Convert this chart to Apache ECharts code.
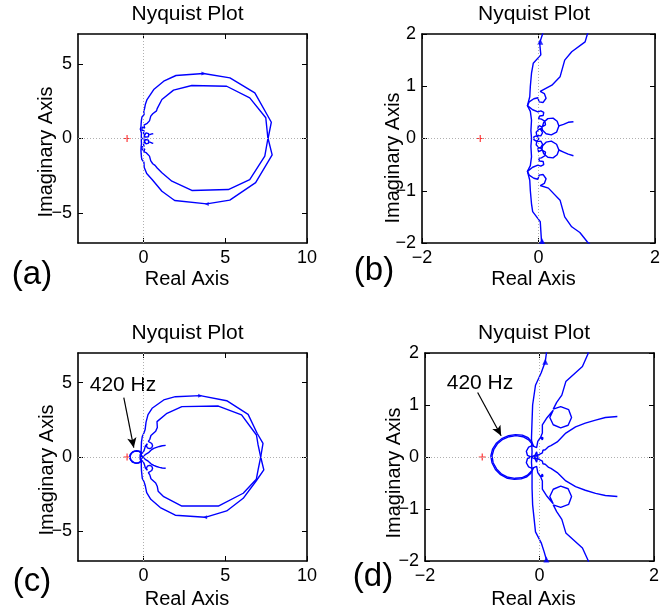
<!DOCTYPE html>
<html>
<head>
<meta charset="utf-8">
<title>Nyquist Plot</title>
<script src="https://cdn.jsdelivr.net/npm/echarts@6.0.0/dist/echarts.min.js"></script>
<style>
  html, body { margin: 0; padding: 0; background: #fff; }
  #chart { width: 670px; height: 610px; }
</style>
</head>
<body>
<div id="chart"></div>
<script>
// tick labels
const ticksXA = [0, 5, 10];
const ticksYA = [-5, 0, 5];
const ticksXB = [-2, 0, 2];
const ticksYB = [-2, -1, 0, 1, 2];

// critical point
const critical = [[-1, 0]];

// (a)/(b) curves
const abOuter = [[7.62,0],[7.82,1.09],[6.81,3.06],[5.29,4.06],[3.67,4.35],[1.99,4.22],[1.24,3.84],[0.63,3.28],[0.22,2.61],[0.12,2.3],[0.07,2.0],[0.02,1.83],[0.04,1.6],[-0.09,1.44],[-0.12,1.25],[-0.14,1.0],[-0.15,0.8],[-0.19,0.63],[-0.14,0.52],[-0.12,0.35],[-0.13,0.15],[-0.12,0],[-0.13,-0.15],[-0.12,-0.35],[-0.14,-0.52],[-0.19,-0.63],[-0.15,-0.8],[-0.14,-1.0],[-0.12,-1.25],[-0.1,-1.4],[0.03,-1.59],[0.05,-1.94],[0.2,-2.35],[0.53,-2.75],[1.13,-3.53],[1.91,-4.15],[3.87,-4.38],[5.28,-4.13],[6.86,-2.96],[7.87,-1.1],[7.62,0]];
const abInnerUp = [[7.61,0],[7.48,1.39],[6.5,2.72],[5.09,3.5],[2.96,3.55],[1.84,3.24],[1.13,2.61],[0.84,2.0],[0.8,1.85],[0.57,1.66],[0.45,1.5],[0.37,1.18],[0.23,1.02],[0.03,0.9],[0.1,0.86],[0.13,0.77],[0.08,0.69],[0.01,0.7],[-0.01,0.78],[-0.08,0.76],[-0.16,0.7],[-0.19,0.63],[-0.1,0.55],[-0.01,0.51],[0.04,0.53],[0.09,0.5],[0.08,0.44],[0.02,0.43],[0.0,0.38],[0.05,0.37],[0.11,0.33],[0.12,0.26],[0.06,0.22],[0.0,0.25],[-0.01,0.19],[0.04,0.17],[0.07,0.11],[0.04,0.05],[-0.03,0.06],[-0.04,0.12],[0.0,0.17],[0.06,0.2],[0.09,0.31],[0.16,0.38],[0.25,0.39],[0.32,0.33],[0.35,0.24],[0.31,0.12],[0.22,0.07],[0.13,0.09],[0.07,0.16],[0.06,0.2]];
const abInnerLow = [[7.61,0],[7.42,-1.18],[6.5,-2.75],[5.19,-3.42],[2.96,-3.48],[1.74,-2.86],[1.13,-2.3],[0.84,-1.98],[0.71,-1.8],[0.57,-1.69],[0.45,-1.5],[0.37,-1.18],[0.17,-0.95],[0.03,-0.9],[0.1,-0.86],[0.13,-0.77],[0.08,-0.69],[0.01,-0.7],[-0.01,-0.78],[-0.08,-0.76],[-0.16,-0.7],[-0.19,-0.63],[-0.1,-0.55],[-0.01,-0.51],[0.04,-0.53],[0.09,-0.5],[0.08,-0.44],[0.02,-0.43],[0.0,-0.38],[0.05,-0.37],[0.11,-0.33],[0.12,-0.26],[0.06,-0.22],[0.0,-0.25],[-0.01,-0.19],[0.04,-0.17],[0.07,-0.11],[0.04,-0.05],[-0.03,-0.06],[-0.04,-0.12],[0.0,-0.17],[0.06,-0.2],[0.09,-0.29],[0.16,-0.36],[0.25,-0.37],[0.32,-0.31],[0.35,-0.22],[0.31,-0.11],[0.22,-0.05],[0.13,-0.07],[0.07,-0.14],[0.06,-0.2]];
const abTailUp = [[0.35,0.24],[0.43,0.27],[0.51,0.31],[0.6,0.32]];
const abTailLow = [[0.35,-0.22],[0.43,-0.26],[0.51,-0.3],[0.6,-0.33]];
const abCenterRing = [[-0.04,0.05],[0.0,0.02],[0.0,-0.03],[-0.04,-0.05],[-0.08,-0.02],[-0.08,0.03],[-0.04,0.05]];

// (c)/(d) curves
const cdOuter = [[7.17,0],[7.31,0.92],[6.95,1.6],[6.4,2.87],[5.09,3.79],[3.47,4.13],[1.95,4.06],[1.24,3.84],[0.53,3.28],[0.28,2.85],[0.16,2.35],[0.12,1.99],[0.1,1.83],[0.03,1.62],[-0.07,1.38],[-0.12,1.0],[-0.13,0.7],[-0.14,0.36],[-0.13,0.1],[-0.14,-0.1],[-0.13,-0.29],[-0.13,-0.6],[-0.12,-0.92],[-0.07,-1.44],[0.03,-1.65],[0.08,-1.82],[0.12,-1.97],[0.2,-2.4],[0.45,-2.85],[1.03,-3.4],[1.95,-3.92],[3.77,-4.06],[5.09,-3.63],[6.1,-2.78],[6.9,-1.6],[7.36,-0.87],[7.17,0]];
const cdInnerUp = [[7.17,0],[7.01,0.81],[6.91,1.48],[6.0,2.83],[4.58,3.43],[2.35,3.39],[1.44,2.94],[0.83,2.38],[0.85,1.99],[0.75,1.74],[0.46,1.45],[0.39,1.19],[0.3,1.05],[0.24,0.92],[0.37,0.97],[0.51,0.91],[0.56,0.76],[0.5,0.61],[0.37,0.56],[0.24,0.62],[0.18,0.76],[0.24,0.9],[0.12,0.74],[0.05,0.62],[0.05,0.46],[0.02,0.38],[0.05,0.33],[0.06,0.37],[0.02,0.38],[-0.03,0.3],[-0.05,0.18],[-0.08,0.21],[-0.13,0.22],[-0.19,0.19],[-0.23,0.11],[-0.21,0.03],[-0.15,0.0],[-0.08,0.03],[-0.05,0.1],[-0.04,0.04],[-0.07,0.0]];
const cdInnerLow = [[7.17,0],[7.01,-0.87],[6.9,-1.5],[6.1,-2.44],[4.58,-3.3],[2.35,-3.3],[1.24,-2.67],[0.9,-2.3],[0.85,-1.99],[0.75,-1.75],[0.46,-1.46],[0.39,-1.2],[0.3,-1.05],[0.24,-0.92],[0.37,-0.97],[0.51,-0.91],[0.56,-0.76],[0.5,-0.61],[0.37,-0.56],[0.24,-0.62],[0.18,-0.76],[0.24,-0.9],[0.12,-0.74],[0.05,-0.62],[0.05,-0.46],[0.02,-0.38],[0.05,-0.33],[0.06,-0.37],[0.02,-0.38],[-0.03,-0.3],[-0.05,-0.18],[-0.08,-0.21],[-0.13,-0.22],[-0.19,-0.19],[-0.23,-0.11],[-0.21,-0.03],[-0.15,0.0],[-0.08,-0.03],[-0.05,-0.1],[-0.04,-0.04],[-0.07,0.0]];
const cdTailUp = [[1.36,0.78],[1.15,0.76],[0.98,0.71],[0.8,0.65],[0.63,0.58],[0.46,0.46],[0.31,0.29],[0.2,0.22],[0.16,0.2],[0.13,0.23],[0.1,0.14],[0.06,0.13],[0.05,0.08],[0.0,0.05],[-0.05,0.02]];
const cdTailLow = [[1.36,-0.76],[1.15,-0.74],[0.98,-0.7],[0.8,-0.64],[0.63,-0.57],[0.46,-0.46],[0.31,-0.3],[0.2,-0.22],[0.16,-0.2],[0.13,-0.23],[0.1,-0.14],[0.06,-0.13],[0.05,-0.08],[0.0,-0.05],[-0.05,-0.02]];
const cdLoopA = [[-0.1,0.2],[-0.14,0.3],[-0.2,0.37],[-0.3,0.42],[-0.42,0.43],[-0.54,0.41],[-0.65,0.36],[-0.75,0.27],[-0.82,0.15],[-0.85,0.02],[-0.83,-0.11],[-0.77,-0.24],[-0.68,-0.34],[-0.56,-0.41],[-0.44,-0.43],[-0.32,-0.42],[-0.22,-0.38],[-0.15,-0.31],[-0.1,-0.2]];
const cdLoopB = [[-0.12,0.24],[-0.19,0.33],[-0.29,0.39],[-0.41,0.41],[-0.53,0.39],[-0.64,0.34],[-0.73,0.26],[-0.8,0.14],[-0.83,0.02],[-0.81,-0.11],[-0.75,-0.23],[-0.66,-0.33],[-0.55,-0.39],[-0.43,-0.41],[-0.31,-0.4],[-0.21,-0.35],[-0.14,-0.27]];
const cdCenterRing = [[-0.07,0.04],[-0.03,0.02],[-0.03,-0.02],[-0.07,-0.04],[-0.1,0.0],[-0.07,0.04]];

// direction arrows on the curves
const arrowA = [[3.67, 4.35], [3.87, -4.38]];
const arrowB = [[0.03, 1.85], [0.06, -1.96]];
const arrowC = [[3.47, 4.13], [3.77, -4.06]];
const arrowD = [[0.1, 1.83], [0.12, -1.97]];

// "420 Hz" pointer, from text to loop
const note420C = [[-1.2, 3.99], [-0.59, 0.63]];
const note420D = [[-1.08, 1.24], [-0.67, 0.41]];

const FONT = '"Liberation Sans", Arial, Helvetica, sans-serif';
const BLUE = '#0000ff';

const grids = [
  { left: 78, top: 34, width: 229, height: 209 },
  { left: 422, top: 34, width: 233, height: 209 },
  { left: 78, top: 353, width: 229, height: 208 },
  { left: 425, top: 353, width: 229, height: 208 }
];

const ranges = [
  { x: [-4, 10], y: [-7, 7], xt: ticksXA, yt: ticksYA },
  { x: [-2, 2], y: [-2, 2], xt: ticksXB, yt: ticksYB },
  { x: [-4, 10], y: [-7, 7], xt: ticksXA, yt: ticksYA },
  { x: [-2, 2], y: [-2, 2], xt: ticksXB, yt: ticksYB }
];

const fmt = v => (v < 0 ? '\u2212' + Math.abs(v) : String(v));

function makeAxis(dim, i, pos) {
  const r = ranges[i];
  const main = pos === 'bottom' || pos === 'left';
  const ticks = dim === 'x' ? r.xt : r.yt;
  return {
    type: 'value',
    gridIndex: i,
    position: pos,
    min: dim === 'x' ? r.x[0] : r.y[0],
    max: dim === 'x' ? r.x[1] : r.y[1],
    axisLine: { show: true, onZero: false, lineStyle: { color: '#000', width: 1.6 } },
    axisTick: { show: true, inside: true, length: 5, customValues: ticks, lineStyle: { color: '#000', width: 1 } },
    axisLabel: {
      show: main, customValues: ticks, formatter: fmt,
      color: '#000', fontSize: 18, fontFamily: FONT, margin: 6
    },
    splitLine: { show: false }
  };
}

const xAxis = [], yAxis = [];
[0, 1, 2, 3].forEach(i => { xAxis.push(makeAxis('x', i, 'bottom')); yAxis.push(makeAxis('y', i, 'left')); });
[0, 1, 2, 3].forEach(i => { xAxis.push(makeAxis('x', i, 'top')); yAxis.push(makeAxis('y', i, 'right')); });

function curve(data, i) {
  return {
    type: 'line', xAxisIndex: i, yAxisIndex: i, data: data,
    symbol: 'none', showSymbol: false, clip: true, silent: true, animation: false,
    lineStyle: { color: BLUE, width: 1.4 }, z: 3
  };
}

const series = [];
const abCurves = [abOuter, abInnerUp, abInnerLow, abTailUp, abTailLow, abCenterRing];
const cdCurves = [cdOuter, cdInnerUp, cdInnerLow, cdTailUp, cdTailLow, cdLoopA, cdLoopB, cdCenterRing];
const arrows = [arrowA, arrowB, arrowC, arrowD];

[0, 1, 2, 3].forEach(i => {
  // red critical point plus dotted zero lines
  series.push({
    type: 'scatter', xAxisIndex: i, yAxisIndex: i, data: critical,
    symbol: 'path://M2.5,0H3.5V2.5H6V3.5H3.5V6H2.5V3.5H0V2.5H2.5Z', symbolSize: 7,
    itemStyle: { color: '#ff0000' }, silent: true, animation: false, z: 2,
    markLine: {
      silent: true, animation: false, symbol: ['none', 'none'], label: { show: false },
      lineStyle: { type: [1, 2], color: '#b0b0b0', width: 1 },
      emphasis: { disabled: true },
      data: [{ xAxis: 0 }, { yAxis: 0 }]
    }
  });
  const set = i < 2 ? abCurves : cdCurves;
  set.forEach(d => series.push(curve(d, i)));
  const zoomed = i === 1 || i === 3;
  series.push({
    type: 'scatter', xAxisIndex: i, yAxisIndex: i,
    data: arrows[i].map(p => ({ value: p, symbolRotate: zoomed ? 0 : (p[1] > 0 ? -90 : 90) })),
    symbol: 'triangle', symbolSize: zoomed ? 6 : 4,
    itemStyle: { color: BLUE }, silent: true, animation: false, z: 4
  });
});

// 420 Hz pointers
[[2, note420C], [3, note420D]].forEach(([i, note]) => {
  series.push({
    type: 'line', xAxisIndex: i, yAxisIndex: i, data: [], silent: true, animation: false,
    markLine: {
      silent: true, animation: false, symbol: ['none', 'arrow'], symbolSize: [7, 10],
      label: { show: false }, emphasis: { disabled: true },
      lineStyle: { color: '#000', width: 1.2, type: 'solid' },
      data: [[{ coord: note[0] }, { coord: note[1] }]]
    }
  });
});

function txt(text, x, y, size, rot) {
  return {
    type: 'text', x: x, y: y, rotation: rot || 0, silent: true,
    style: { text: text, fill: '#000', font: size + 'px ' + FONT, textAlign: 'center', textVerticalAlign: 'middle' }
  };
}

const graphic = [
  txt('Nyquist Plot', 187.5, 14, 21), txt('Nyquist Plot', 534, 14, 21),
  txt('Nyquist Plot', 187.5, 333, 21), txt('Nyquist Plot', 534, 333, 21),
  txt('Real Axis', 187, 279, 20), txt('Real Axis', 533.5, 279, 20),
  txt('Real Axis', 187, 599, 20), txt('Real Axis', 533.5, 599, 20),
  txt('Imaginary Axis', 46, 152, 20, Math.PI / 2), txt('Imaginary Axis', 393, 158, 20, Math.PI / 2),
  txt('Imaginary Axis', 47, 470, 20, Math.PI / 2), txt('Imaginary Axis', 394, 473, 20, Math.PI / 2),
  txt('(a)', 32, 275, 33), txt('(b)', 374, 271, 33),
  txt('(c)', 32, 582, 33), txt('(d)', 373, 577, 33),
  txt('420 Hz', 123, 385, 21), txt('420 Hz', 480, 383.5, 21)
];

const chart = echarts.init(document.getElementById('chart'), null, { renderer: 'canvas' });
chart.setOption({
  animation: false,
  backgroundColor: '#fff',
  grid: grids,
  xAxis: xAxis,
  yAxis: yAxis,
  series: series,
  graphic: graphic
});
window.addEventListener('resize', () => chart.resize());
</script>
</body>
</html>
